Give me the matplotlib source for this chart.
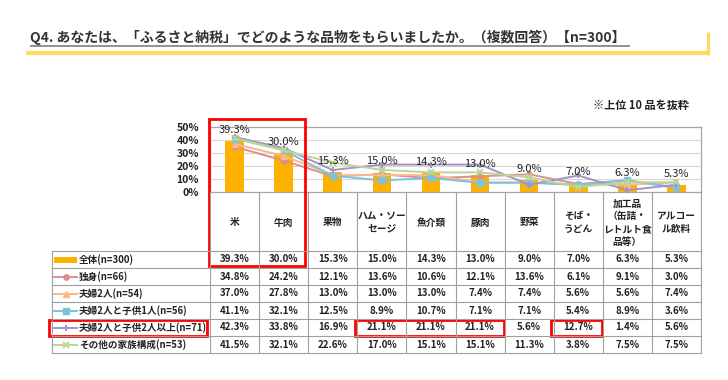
import matplotlib
matplotlib.use("Agg")
import matplotlib.pyplot as plt
from matplotlib.lines import Line2D
from matplotlib.patches import Rectangle

plt.rcParams['font.family'] = ['Noto Sans CJK JP', 'DejaVu Sans']

# ---------------- data ----------------
categories = ["米", "牛肉", "果物", "ハム・ソー\nセージ", "魚介類", "豚肉", "野菜",
              "そば・\nうどん", "加工品\n（缶詰・\nレトルト食\n品等）", "アルコー\nル飲料"]
total = [39.3, 30.0, 15.3, 15.0, 14.3, 13.0, 9.0, 7.0, 6.3, 5.3]
single = [34.8, 24.2, 12.1, 13.6, 10.6, 12.1, 13.6, 6.1, 9.1, 3.0]
couple = [37.0, 27.8, 13.0, 13.0, 13.0, 7.4, 7.4, 5.6, 5.6, 7.4]
couple_child1 = [41.1, 32.1, 12.5, 8.9, 10.7, 7.1, 7.1, 5.4, 8.9, 3.6]
couple_child2 = [42.3, 33.8, 16.9, 21.1, 21.1, 21.1, 5.6, 12.7, 1.4, 5.6]
other = [41.5, 32.1, 22.6, 17.0, 15.1, 15.1, 11.3, 3.8, 7.5, 7.5]

series_labels = ["全体(n=300)", "独身(n=66)", "夫婦2人(n=54)", "夫婦2人と子供1人(n=56)",
                 "夫婦2人と子供2人以上(n=71)", "その他の家族構成(n=53)"]
yticks = [0, 10, 20, 30, 40, 50]

title = "Q4. あなたは、「ふるさと納税」でどのような品物をもらいましたか。（複数回答）【n=300】"
note = "※上位 10 品を抜粋"

# ---------------- style ----------------
bar_color = "#FFB100"
line_series = [single, couple, couple_child1, couple_child2, other]
line_colors = ["#D8918D", "#F9B98A", "#7CC4D9", "#A493C5", "#BDD596"]
line_markers = ["o", "^", "s", "+", "x"]

W, H = 728, 380
L, R = 210, 701          # column area in px
TOP, BOT = 127, 192      # plot area (50% .. 0%)
n = len(categories)
cw = (R - L) / n
ROW0, RH = 251, 17       # table rows
TL = 52                  # table left

fig = plt.figure(figsize=(W / 100, H / 100), dpi=100)

# ---------------- chart ----------------
ax = fig.add_axes([L / W, 1 - BOT / H, (R - L) / W, (BOT - TOP) / H])
x = list(range(n))
ax.bar(x, total, width=0.38, color=bar_color, zorder=2)
for vals, c, m in zip(line_series, line_colors, line_markers):
    ax.plot(x, vals, color=c, marker=m, ms=4.5 if m in "+x" else 3.8,
            mew=1.4 if m in "+x" else 1, lw=1.4, zorder=3)
for i, v in enumerate(total):
    ax.text(i, v + 8.5, f"{v:.1f}%", ha="center", va="center", fontsize=8,
            color="#222222", zorder=4, clip_on=False)
ax.set_xlim(-0.5, n - 0.5)
ax.set_ylim(0, 50)
ax.set_yticks(yticks)
ax.set_yticklabels([f"{v}%" for v in yticks], fontsize=7.5, color="#222222",
                   fontweight="bold")
ax.set_xticks([])
ax.tick_params(axis="y", length=0, pad=8)
ax.yaxis.grid(True, color="#D9D9D9", lw=0.8, zorder=0)
ax.set_axisbelow(True)
for s in ax.spines.values():
    s.set_color("#A6A6A6")
    s.set_linewidth(0.9)

# ---------------- overlay (table, title, highlights) ----------------
ov = fig.add_axes([0, 0, 1, 1], zorder=5)
ov.set_xlim(0, W)
ov.set_ylim(H, 0)
ov.axis("off")
ov.patch.set_alpha(0)

grid_c = "#A0A0A0"
nrows = len(series_labels)
TB = ROW0 + nrows * RH
for i in range(n + 1):
    ov.plot([L + i * cw] * 2, [BOT, TB], color=grid_c, lw=0.8)
ov.plot([TL, TL], [ROW0, TB], color=grid_c, lw=0.8)
for k in range(nrows + 1):
    ov.plot([TL, R], [ROW0 + k * RH] * 2, color=grid_c, lw=0.8)

# header labels
for i, cat in enumerate(categories):
    ov.text(L + (i + 0.5) * cw, (BOT + ROW0) / 2 + 1, cat, ha="center", va="center",
            fontsize=7, fontweight="bold", color="#222222", linespacing=1.35)

# rows
all_series = [total] + line_series
for r, (lab, vals) in enumerate(zip(series_labels, all_series)):
    yc = ROW0 + (r + 0.5) * RH
    if r == 0:
        ov.add_patch(Rectangle((54, yc - 3), 23, 6, color=bar_color, lw=0))
    else:
        c = line_colors[r - 1]
        m = line_markers[r - 1]
        ov.add_line(Line2D([54, 77], [yc, yc], color=c, lw=1.4))
        ov.add_line(Line2D([65.5], [yc], color=c, marker=m,
                           ms=4.5 if m in "+x" else 3.8, mew=1.4 if m in "+x" else 1))
    ov.text(79, yc, lab, ha="left", va="center", fontsize=6.9, fontweight="bold",
            color="#222222")
    for i, v in enumerate(vals):
        ov.text(L + (i + 0.5) * cw, yc, f"{v:.1f}%", ha="center", va="center",
                fontsize=7, fontweight="bold", color="#222222")

# red highlight boxes
red = "#FF0000"
def box(x0, y0, x1, y1):
    ov.add_patch(Rectangle((x0, y0), x1 - x0, y1 - y0, fill=False, ec=red, lw=2))

box(L - 1, 119, L + 2 * cw - 3, ROW0 + RH - 2)
box(49, ROW0 + 4 * RH + 1, 207, ROW0 + 5 * RH)
box(L + 3 * cw - 2, ROW0 + 4 * RH + 1, L + 6 * cw - 1, ROW0 + 5 * RH)
box(L + 7 * cw - 3, ROW0 + 4 * RH + 1, L + 8 * cw - 1, ROW0 + 5 * RH)

# title with underline and yellow accent
ov.plot([26, 710], [53, 53], color="#FFD966", lw=3, solid_capstyle="butt")
ov.plot([708, 708], [32, 55], color="#FFD966", lw=2.2, solid_capstyle="butt")
ov.plot([30, 630], [46, 46], color="#7F7F7F", lw=1.2, solid_capstyle="butt")
ov.text(30, 37, title, ha="left", va="center", fontsize=10, fontweight="bold",
        color="#333333")
ov.text(689, 105, note, ha="right", va="center", fontsize=8, fontweight="bold",
        color="#222222")

fig.savefig("out.png", dpi=100)
